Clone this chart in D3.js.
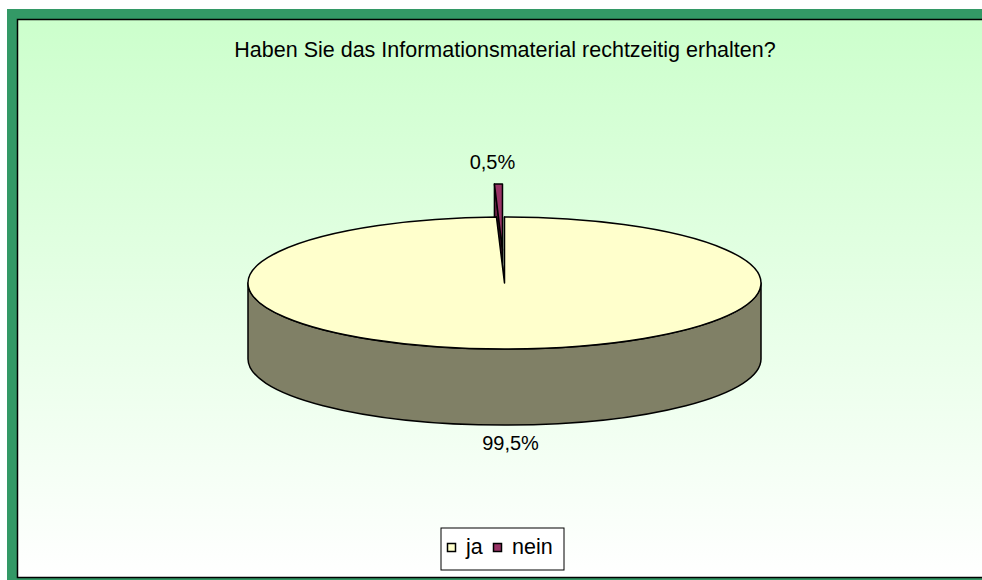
<!DOCTYPE html>
<html>
<head>
<meta charset="utf-8">
<script src="https://cdn.jsdelivr.net/npm/d3@7"></script>
<style>
  body { margin: 0; background: #fff; }
  text { font-family: "Liberation Sans", Arial, sans-serif; fill: #000; }
</style>
</head>
<body>
<script>
// chart data
let categories = ["ja", "nein"];
let values = [99.5, 0.5];
let valueLabels = ["99,5%", "0,5%"];
let title = "Haben Sie das Informationsmaterial rechtzeitig erhalten?";

let width = 982;
let height = 580;

let topColors = ["#FFFFCC", "#993366"];
let sideColors = ["#808066", "#6B2447"];

let svg = d3
  .select("body")
  .append("svg")
  .attr("width", width)
  .attr("height", height);

// background gradient
let grad = svg
  .append("defs")
  .append("linearGradient")
  .attr("id", "bg")
  .attr("x1", 0)
  .attr("y1", 0)
  .attr("x2", 0)
  .attr("y2", 1);
grad.append("stop").attr("offset", "0%").attr("stop-color", "#CCFFCC");
grad.append("stop").attr("offset", "100%").attr("stop-color", "#FFFFFF");

// green frame + plot area
svg
  .append("rect")
  .attr("x", 7)
  .attr("y", 9)
  .attr("width", width)
  .attr("height", height)
  .attr("fill", "#339966");
svg
  .append("rect")
  .attr("x", 17.5)
  .attr("y", 19.5)
  .attr("width", width)
  .attr("height", 558)
  .attr("fill", "url(#bg)")
  .attr("stroke", "#000")
  .attr("stroke-width", 1.5);

svg
  .append("text")
  .attr("x", 505)
  .attr("y", 57)
  .attr("text-anchor", "middle")
  .style("font-size", "21.5px")
  .text(title);

// pie geometry (ellipse projection)
let cx = 504.5,
  cy = 283,
  rx = 256.5,
  ry = 66,
  depth = 76;

let pie = d3.pie().sort(null).startAngle(0).endAngle(2 * Math.PI);
let arcs = pie(values);

let pt = (a, ox = 0, oy = 0) => [cx + ox + rx * Math.sin(a), cy + oy - ry * Math.cos(a)];

// explode the small slice
let explode = [0, 0.5];
arcs.forEach((d, i) => {
  let mid = (d.startAngle + d.endAngle) / 2;
  d.ox = explode[i] * rx * Math.sin(mid);
  d.oy = -explode[i] * ry * Math.cos(mid);
  d.mid = mid;
});

let topPath = (d) => {
  let p0 = pt(d.startAngle, d.ox, d.oy);
  let p1 = pt(d.endAngle, d.ox, d.oy);
  let large = d.endAngle - d.startAngle > Math.PI ? 1 : 0;
  return `M${cx + d.ox},${cy + d.oy}L${p0}A${rx},${ry} 0 ${large} 1 ${p1}Z`;
};

let wallPath = (d, a) => {
  let p = pt(a, d.ox, d.oy);
  return `M${cx + d.ox},${cy + d.oy}L${p}L${p[0]},${p[1] + depth}L${cx + d.ox},${cy + d.oy + depth}Z`;
};

let g = svg.append("g").attr("stroke", "#000").attr("stroke-width", 1.5).attr("stroke-linejoin", "round");

let ja = arcs[0],
  nein = arcs[1];

// nein wall (behind)
g.append("path").attr("d", wallPath(nein, nein.startAngle)).attr("fill", sideColors[1]);

// ja walls visible through the notch
g.append("path").attr("d", wallPath(ja, ja.endAngle)).attr("fill", topColors[0]);
g.append("path").attr("d", wallPath(ja, ja.startAngle)).attr("fill", topColors[0]);

// ja front side
g.append("path")
  .attr(
    "d",
    `M${pt(Math.PI / 2)}A${rx},${ry} 0 0 1 ${pt((3 * Math.PI) / 2)}` +
      `L${cx - rx},${cy + depth}A${rx},${ry} 0 0 0 ${cx + rx},${cy + depth}Z`
  )
  .attr("fill", sideColors[0]);

// top faces
g.append("path").attr("d", topPath(ja)).attr("fill", topColors[0]);
g.append("path").attr("d", topPath(nein)).attr("fill", topColors[1]);

// data labels
let nTop = pt(nein.mid, nein.ox, nein.oy);
svg
  .append("text")
  .attr("x", nTop[0] - 6)
  .attr("y", nTop[1] - 15)
  .attr("text-anchor", "middle")
  .style("font-size", "20px")
  .text(valueLabels[1]);

let jBot = pt(ja.mid);
svg
  .append("text")
  .attr("x", jBot[0] + 2)
  .attr("y", jBot[1] + depth + 25)
  .attr("text-anchor", "middle")
  .style("font-size", "20px")
  .text(valueLabels[0]);

// legend
let legend = svg.append("g");
legend
  .append("rect")
  .attr("x", 441)
  .attr("y", 528)
  .attr("width", 123)
  .attr("height", 42)
  .attr("fill", "#fff")
  .attr("stroke", "#000")
  .attr("stroke-width", 1);

let legX = [447, 493];
categories.forEach((c, i) => {
  legend
    .append("rect")
    .attr("x", legX[i] + 0.5)
    .attr("y", 543.5)
    .attr("width", 8)
    .attr("height", 8)
    .attr("fill", topColors[i])
    .attr("stroke", "#000")
    .attr("stroke-width", 1.5);
  legend
    .append("text")
    .attr("x", legX[i] + (i === 0 ? 19 : 19))
    .attr("y", 554)
    .style("font-size", "21.5px")
    .text(c);
});
</script>
</body>
</html>
